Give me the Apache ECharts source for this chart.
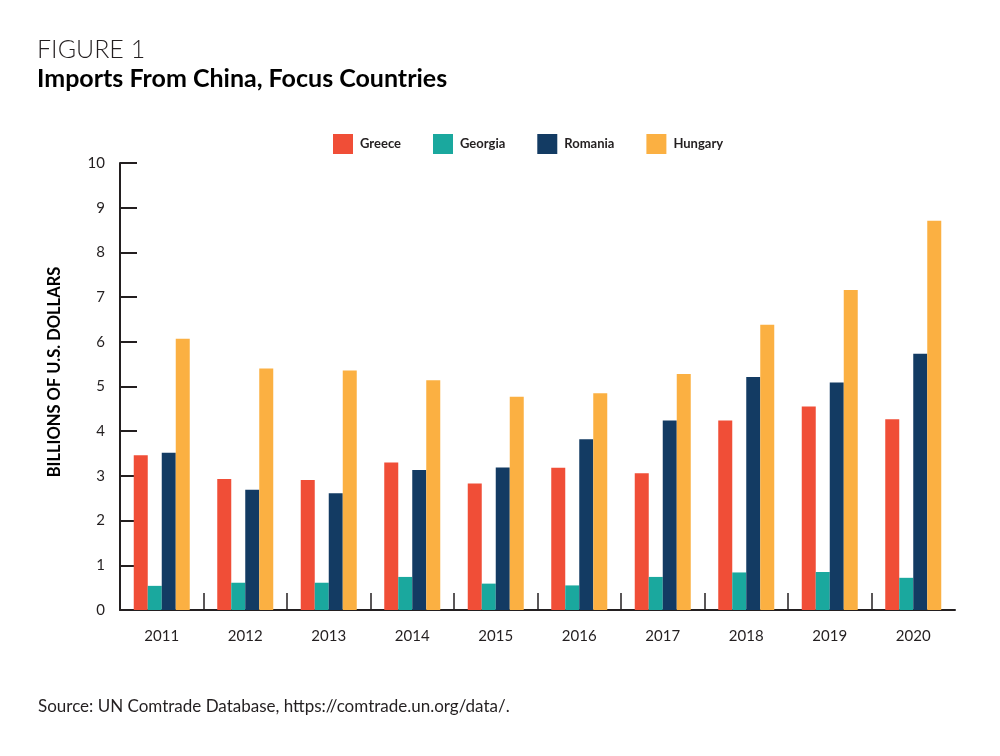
<!DOCTYPE html>
<html>
<head>
<meta charset="utf-8">
<script src="https://cdn.jsdelivr.net/npm/echarts@6/dist/echarts.min.js"></script>
<style>
html,body{margin:0;padding:0;background:#fff;}
#chart{width:1000px;height:756px;}
</style>
</head>
<body>
<div id="chart"></div>
<script>
const years = ['2011','2012','2013','2014','2015','2016','2017','2018','2019','2020'];
const greece  = [3.46, 2.93, 2.91, 3.30, 2.83, 3.18, 3.06, 4.24, 4.55, 4.27];
const georgia = [0.54, 0.61, 0.61, 0.74, 0.59, 0.55, 0.74, 0.84, 0.85, 0.72];
const romania = [3.52, 2.69, 2.61, 3.13, 3.19, 3.82, 4.24, 5.21, 5.09, 5.73];
const hungary = [6.07, 5.40, 5.36, 5.14, 4.77, 4.85, 5.28, 6.38, 7.16, 8.71];
const seriesNames = ['Greece','Georgia','Romania','Hungary'];
const yTicks = [0,1,2,3,4,5,6,7,8,9,10];

const colors = ['#F04E37','#1AA89E','#133B63','#FBB042'];
const ink = '#231F20';
const font = 'Lato';

const chart = echarts.init(document.getElementById('chart'));
const barSeries = [greece, georgia, romania, hungary].map((d, i) => ({
  name: seriesNames[i],
  type: 'bar',
  data: d,
  barWidth: 14,
  barGap: '0%',
  itemStyle: { color: colors[i] },
  emphasis: { disabled: true }
}));

// boundary ticks between categories (skip the outer edges)
const boundaryTicks = {
  type: 'custom',
  name: 'ticks',
  silent: true,
  data: years.slice(1).map((y, i) => [i + 1, 0]),
  renderItem: function (params, api) {
    const p = api.coord([api.value(0), 0]);
    const bw = api.size([1, 0])[0];
    const x = Math.round(p[0] - bw / 2);
    return {
      type: 'line',
      shape: { x1: x, y1: p[1], x2: x, y2: p[1] - 17 },
      style: { stroke: ink, lineWidth: 1.5 }
    };
  },
  z: 5
};

chart.setOption({
  animation: false,
  backgroundColor: '#fff',
  textStyle: { fontFamily: font },
  title: [
    { text: 'FIGURE 1', left: 37, top: 37, padding: 0, textStyle: { fontFamily: font, fontWeight: 300, fontSize: 25, color: ink } },
    { text: 'Imports From China, Focus Countries', left: 37, top: 66, padding: 0, textStyle: { fontFamily: font, fontWeight: 'bold', fontSize: 25, color: '#000' } },
    { text: 'Source: UN Comtrade Database, https://comtrade.un.org/data/.', left: 38, top: 698, padding: 0, textStyle: { fontFamily: font, fontWeight: 'normal', fontSize: 17, color: ink } }
  ],
  legend: {
    data: seriesNames,
    left: 328,
    top: 129,
    icon: 'rect',
    itemWidth: 20,
    itemHeight: 20,
    itemGap: 32,
    textStyle: { fontFamily: font, fontWeight: 'bold', fontSize: 13, color: ink, padding: [0,0,0,2] },
    selectedMode: false
  },
  grid: { left: 120, right: 45, top: 163, bottom: 146, containLabel: false },
  xAxis: {
    type: 'category',
    data: years,
    axisLine: { lineStyle: { color: ink, width: 2 } },
    axisTick: { show: false },
    axisLabel: { color: ink, fontSize: 15, margin: 19, fontFamily: font }
  },
  yAxis: {
    type: 'value',
    min: 0,
    max: 10,
    interval: 1,
    axisLine: { show: true, lineStyle: { color: ink, width: 2 } },
    axisTick: { show: true, inside: true, length: 17, lineStyle: { color: ink, width: 2 } },
    splitLine: { show: false },
    axisLabel: { color: ink, fontSize: 15, margin: 15, fontFamily: font,
      formatter: v => yTicks.includes(v) ? String(v) : '' }
  },
  graphic: [
    { type: 'text', x: 55, y: 372, rotation: Math.PI / 2,
      style: { text: 'BILLIONS OF U.S. DOLLARS', fontFamily: font, fontWeight: 'bold', fontSize: 16.5,
        fill: '#000', textAlign: 'center', textVerticalAlign: 'middle' } }
  ],
  series: barSeries.concat([boundaryTicks])
});
</script>
</body>
</html>
